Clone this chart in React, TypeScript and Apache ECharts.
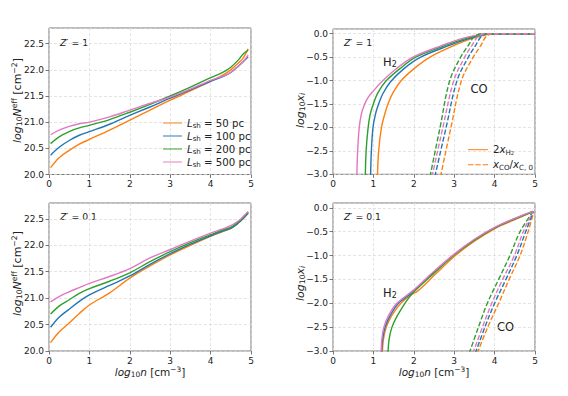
import React, { useEffect, useRef } from 'react';
import * as echarts from 'echarts';

const FONT = 'DejaVu Sans';
const COLORS = ['#ff7f0e', '#1f77b4', '#2ca02c', '#e377c2'];
const LSH = ['50', '100', '200', '500'];

// log10 n sample points for the N_eff curves
const N_X = [0.04, 0.25, 0.5, 0.75, 1, 1.5, 2, 2.5, 3, 3.5, 4, 4.3, 4.5, 4.7, 4.8, 4.93];

// Z' = 1, log10 N_eff
const NEFF_Z1_50 = [20.13, 20.32, 20.46, 20.58, 20.67, 20.85, 21.04, 21.23, 21.42, 21.6, 21.78, 21.9, 22.0, 22.14, 22.22, 22.4];
const NEFF_Z1_100 = [20.37, 20.52, 20.65, 20.75, 20.82, 20.96, 21.13, 21.29, 21.46, 21.62, 21.78, 21.87, 21.95, 22.08, 22.15, 22.25];
const NEFF_Z1_200 = [20.59, 20.72, 20.82, 20.89, 20.94, 21.05, 21.19, 21.34, 21.5, 21.67, 21.85, 21.95, 22.05, 22.2, 22.3, 22.38];
const NEFF_Z1_500 = [20.76, 20.85, 20.92, 20.97, 21.0, 21.1, 21.23, 21.36, 21.48, 21.63, 21.8, 21.88, 21.95, 22.08, 22.15, 22.28];

// Z' = 0.1, log10 N_eff
const NEFF_Z01_50 = [20.16, 20.36, 20.53, 20.71, 20.87, 21.1, 21.38, 21.61, 21.82, 22.0, 22.17, 22.26, 22.32, 22.43, 22.5, 22.61];
const NEFF_Z01_100 = [20.45, 20.64, 20.79, 20.94, 21.06, 21.24, 21.42, 21.64, 21.84, 22.02, 22.18, 22.27, 22.32, 22.43, 22.5, 22.61];
const NEFF_Z01_200 = [20.7, 20.85, 20.97, 21.09, 21.18, 21.32, 21.48, 21.69, 21.88, 22.05, 22.2, 22.29, 22.34, 22.45, 22.52, 22.63];
const NEFF_Z01_500 = [20.93, 21.03, 21.12, 21.2, 21.28, 21.41, 21.56, 21.76, 21.92, 22.08, 22.23, 22.31, 22.37, 22.47, 22.54, 22.64];

// Z' = 1, log10 (2 x_H2) as [log10 n, value]
const H2_Z1_50 = [[1.1, -3.05], [1.13, -2.5], [1.2, -2], [1.28, -1.72], [1.36, -1.5], [1.48, -1.27], [1.69, -1], [2.0, -0.75], [2.4, -0.5], [3.0, -0.25], [3.45, -0.1], [3.88, -0.01], [4.1, 0], [5, 0]];
const H2_Z1_100 = [[0.93, -3.05], [0.95, -2.5], [0.99, -2], [1.05, -1.72], [1.12, -1.52], [1.24, -1.27], [1.42, -1.03], [1.75, -0.75], [2.17, -0.5], [2.88, -0.25], [3.38, -0.1], [3.8, -0.01], [4.05, 0], [5, 0]];
const H2_Z1_200 = [[0.8, -3.05], [0.82, -2.5], [0.87, -2], [0.92, -1.72], [0.99, -1.52], [1.1, -1.28], [1.3, -1.02], [1.65, -0.75], [2.05, -0.5], [2.78, -0.25], [3.3, -0.1], [3.72, -0.01], [4.0, 0], [5, 0]];
const H2_Z1_500 = [[0.59, -3.05], [0.61, -2.5], [0.65, -2], [0.7, -1.72], [0.77, -1.53], [0.87, -1.36], [1.0, -1.22], [1.2, -1.03], [1.55, -0.76], [1.98, -0.5], [2.7, -0.25], [3.2, -0.1], [3.64, -0.02], [3.95, 0], [5, 0]];

// Z' = 1, log10 (x_CO / x_C,0)
const CO_Z1_50 = [[2.66, -3.05], [2.92, -2], [3.18, -1], [3.47, -0.5], [3.66, -0.25], [3.8, -0.05], [3.98, 0], [5, 0]];
const CO_Z1_100 = [[2.52, -3.05], [2.8, -2], [3.07, -1], [3.35, -0.5], [3.53, -0.25], [3.68, -0.05], [3.86, 0], [5, 0]];
const CO_Z1_200 = [[2.4, -3.05], [2.65, -2], [2.89, -1], [3.16, -0.5], [3.35, -0.25], [3.51, -0.05], [3.7, 0], [5, 0]];
const CO_Z1_500 = [[2.45, -3.05], [2.72, -2], [2.99, -1], [3.26, -0.5], [3.44, -0.25], [3.6, -0.05], [3.78, 0], [5, 0]];

// Z' = 0.1, log10 (2 x_H2)
const H2_Z01_50 = [[1.22, -3.05], [1.25, -2.75], [1.32, -2.5], [1.46, -2.25], [1.68, -2.0], [1.9, -1.84], [2.1, -1.74], [2.5, -1.42], [3.0, -1.02], [3.5, -0.7], [4.0, -0.44], [4.5, -0.25], [4.95, -0.08]];
const H2_Z01_100 = [[1.2, -3.05], [1.23, -2.75], [1.29, -2.5], [1.42, -2.25], [1.62, -2.0], [2.0, -1.75], [2.5, -1.35], [3.0, -0.98], [3.5, -0.67], [4.0, -0.42], [4.5, -0.23], [4.95, -0.08]];
const H2_Z01_200 = [[1.36, -3.05], [1.39, -2.75], [1.46, -2.5], [1.6, -2.25], [1.78, -2.0], [1.9, -1.86], [2.0, -1.76], [2.5, -1.37], [3.0, -0.99], [3.5, -0.68], [4.0, -0.42], [4.5, -0.23], [4.95, -0.08]];
const H2_Z01_500 = [[1.19, -3.05], [1.21, -2.75], [1.26, -2.5], [1.38, -2.25], [1.58, -2.0], [2.0, -1.72], [2.5, -1.33], [3.0, -0.97], [3.5, -0.66], [4.0, -0.41], [4.5, -0.22], [4.95, -0.07]];

// Z' = 0.1, log10 (x_CO / x_C,0)
const CO_Z01_50 = [[3.57, -3.05], [3.83, -2.5], [4.1, -2], [4.36, -1.5], [4.63, -1], [4.83, -0.5], [4.97, -0.08]];
const CO_Z01_100 = [[3.52, -3.05], [3.76, -2.5], [4.0, -2], [4.28, -1.5], [4.55, -1], [4.77, -0.5], [4.96, -0.08]];
const CO_Z01_200 = [[3.37, -3.05], [3.6, -2.5], [3.82, -2], [4.1, -1.5], [4.38, -1], [4.63, -0.5], [4.95, -0.08]];
const CO_Z01_500 = [[3.46, -3.05], [3.7, -2.5], [3.93, -2], [4.2, -1.5], [4.49, -1], [4.71, -0.5], [4.95, -0.08]];

const TICK = 9;
const LEG = 10.2;
const NAME = 11;
const TXT = '#222';
const SPINE = '#555';

const richBase = (size: number, lh: number) => {
  const s = Math.round(size * 0.7 * 10) / 10;
  const ss = Math.round(size * 0.5 * 10) / 10;
  return {
    it: { fontStyle: 'italic', fontSize: size, fontFamily: FONT, lineHeight: lh, color: TXT },
    n: { fontSize: size, fontFamily: FONT, lineHeight: lh, color: TXT },
    sub: { fontSize: s, fontFamily: FONT, lineHeight: 5, verticalAlign: 'bottom', color: TXT },
    subi: { fontSize: s, fontStyle: 'italic', fontFamily: FONT, lineHeight: 5, verticalAlign: 'bottom', color: TXT },
    subsub: { fontSize: ss, fontFamily: FONT, lineHeight: 1, verticalAlign: 'bottom', color: TXT },
    sup: { fontSize: s, fontFamily: FONT, lineHeight: 5, verticalAlign: 'top', color: TXT },
  };
};

const SOLID_ICON = 'path://M0,0H20V1H0Z';
const DASH_ICON = 'path://M0,0H5.5V1H0Z M7.3,0H12.8V1H7.3Z M14.6,0H20V1H14.6Z';

function fmtY(v: number) {
  const s = Math.abs(v).toFixed(1);
  return v < -1e-9 ? '\u2212' + s : s;
}

export default function App() {
  const ref = useRef<HTMLDivElement>(null);
  useEffect(() => {
    if (!ref.current) return;
    const chart = echarts.init(ref.current, undefined, { renderer: 'svg' });

    const grids = [
      { left: 49, top: 28, width: 202, height: 146.5 },
      { left: 333, top: 29, width: 202, height: 145.3 },
      { left: 49, top: 203, width: 202, height: 148 },
      { left: 333, top: 203, width: 202, height: 148 },
    ].map((g) => ({ ...g, show: true, borderColor: SPINE, borderWidth: 0.8, backgroundColor: 'transparent' }));

    const xName = '{it|log}{sub|10}{it|n}{n| [cm}{sup|\u22123}{n|]}';
    const xAxes = [0, 1, 2, 3].map((i) => ({
      type: 'value',
      gridIndex: i,
      min: 0,
      max: 5,
      interval: 1,
      name: i >= 2 ? xName : '',
      nameLocation: 'middle',
      nameGap: 14,
      nameTextStyle: { fontSize: 10.5, fontFamily: FONT, color: TXT, rich: richBase(10.5, 12) },
      axisLine: { show: false, onZero: false },
      axisTick: { show: true, length: 3.5, lineStyle: { color: SPINE, width: 0.8 } },
      axisLabel: { fontSize: TICK, fontFamily: FONT, color: TXT, margin: 5 },
      splitLine: { show: true, lineStyle: { color: '#d9d9d9', type: [3, 2], width: 0.7 } },
    }));

    const yCfg = [
      { min: 20, max: 22.8 },
      { min: -3, max: 0.1 },
      { min: 20, max: 22.8 },
      { min: -3, max: 0.1 },
    ];
    const yAxes = yCfg.map((c, i) => ({
      type: 'value',
      gridIndex: i,
      min: c.min,
      max: c.max,
      interval: 0.5,
      axisLine: { show: false, onZero: false },
      axisTick: { show: true, length: 3.5, lineStyle: { color: SPINE, width: 0.8 } },
      axisLabel: { fontSize: TICK, fontFamily: FONT, color: TXT, margin: 5, formatter: fmtY, showMaxLabel: false },
      splitLine: { show: true, lineStyle: { color: '#d9d9d9', type: [3, 2], width: 0.7 } },
    }));

    const base = (g: number, color: string, name: string, data: number[][], dashed = false) => ({
      type: 'line',
      name,
      xAxisIndex: g,
      yAxisIndex: g,
      data,
      symbol: 'none',
      smooth: 0.35,
      clip: true,
      lineStyle: { color, width: 1.4, type: dashed ? [5, 2.2] : 'solid' },
      itemStyle: { color },
      emphasis: { disabled: true },
    });

    const neffZ1 = [NEFF_Z1_50, NEFF_Z1_100, NEFF_Z1_200, NEFF_Z1_500];
    const neffZ01 = [NEFF_Z01_50, NEFF_Z01_100, NEFF_Z01_200, NEFF_Z01_500];
    const h2Z1 = [H2_Z1_50, H2_Z1_100, H2_Z1_200, H2_Z1_500];
    const coZ1 = [CO_Z1_50, CO_Z1_100, CO_Z1_200, CO_Z1_500];
    const h2Z01 = [H2_Z01_50, H2_Z01_100, H2_Z01_200, H2_Z01_500];
    const coZ01 = [CO_Z01_50, CO_Z01_100, CO_Z01_200, CO_Z01_500];

    const series: any[] = [];
    neffZ1.forEach((ys, i) => series.push(base(0, COLORS[i], 'L' + LSH[i], N_X.map((x, j) => [x, ys[j]]))));
    h2Z1.forEach((d, i) => series.push(base(1, COLORS[i], i === 0 ? 'H2leg' : 'h2_' + LSH[i], d)));
    coZ1.forEach((d, i) => series.push(base(1, COLORS[i], i === 0 ? 'COleg' : 'co_' + LSH[i], d, true)));
    neffZ01.forEach((ys, i) => series.push(base(2, COLORS[i], 'b_L' + LSH[i], N_X.map((x, j) => [x, ys[j]]))));
    h2Z01.forEach((d, i) => series.push(base(3, COLORS[i], 'bh2_' + LSH[i], d)));
    coZ01.forEach((d, i) => series.push(base(3, COLORS[i], 'bco_' + LSH[i], d, true)));

    const legRich = richBase(LEG, 12);
    const legends = [
      {
        orient: 'vertical',
        left: 158,
        top: 113,
        itemWidth: 19,
        itemHeight: 1.5,
        itemGap: 2,
        selectedMode: false,
        data: LSH.map((l, i) => ({ name: 'L' + l, icon: SOLID_ICON, itemStyle: { color: COLORS[i] } })),
        formatter: (name: string) => '{it|L}{sub|sh}{n| = ' + name.slice(1) + ' pc}',
        textStyle: { fontSize: LEG, fontFamily: FONT, color: TXT, rich: legRich },
      },
      {
        orient: 'vertical',
        left: 463,
        top: 139.7,
        itemWidth: 20,
        itemHeight: 1.5,
        itemGap: 4,
        selectedMode: false,
        data: [
          { name: 'H2leg', icon: SOLID_ICON, itemStyle: { color: COLORS[0] } },
          { name: 'COleg', icon: DASH_ICON, itemStyle: { color: COLORS[0] } },
        ],
        formatter: (name: string) =>
          name === 'H2leg' ? '{n|2}{it|x}{sub|H}{subsub|2}' : '{it|x}{sub|CO}{n|/}{it|x}{sub|C, 0}',
        textStyle: { fontSize: LEG, fontFamily: FONT, color: TXT, rich: legRich },
      },
    ];

    const annRich = richBase(9.3, 12);
    const bigRich = richBase(11.5, 13);
    const nameRich = richBase(NAME, 13);
    const ann = (x: number, y: number, text: string, rich: any, size: number, rotation = 0) => ({
      type: 'text',
      x,
      y,
      rotation,
      silent: true,
      style: { text, rich, fontSize: size, fontFamily: FONT, fill: TXT, verticalAlign: 'middle', align: 'left' },
    });

    const nName = '{it|log}{sub|10}{it|N}{sup|eff}{n| [cm}{sup|\u22122}{n|]}';
    const xiName = '{it|log}{sub|10}{it|x}{subi|i}';
    const R = Math.PI / 2;

    chart.setOption({
      animation: false,
      backgroundColor: '#ffffff',
      grid: grids,
      xAxis: xAxes,
      yAxis: yAxes,
      legend: legends,
      series,
      graphic: [
        ann(17, 143, nName, nameRich, NAME, R),
        ann(300, 128, xiName, nameRich, NAME, R),
        ann(17, 316, nName, nameRich, NAME, R),
        ann(300, 301, xiName, nameRich, NAME, R),
        ann(60, 42.5, "{it|Z}{n|\u2032 = 1}", annRich, 9.3),
        ann(344, 42.5, "{it|Z}{n|\u2032 = 1}", annRich, 9.3),
        ann(60, 216.5, "{it|Z}{n|\u2032 = 0.1}", annRich, 9.3),
        ann(344, 216.5, "{it|Z}{n|\u2032 = 0.1}", annRich, 9.3),
        ann(383, 62, '{n|H}{sub|2}', bigRich, 11.5),
        ann(470.5, 88.5, '{n|CO}', bigRich, 11.5),
        ann(383, 292.5, '{n|H}{sub|2}', bigRich, 11.5),
        ann(497, 326.5, '{n|CO}', bigRich, 11.5),
      ],
    });
    return () => chart.dispose();
  }, []);
  return <div ref={ref} style={{ position: 'fixed', left: 0, top: 0, width: 568, height: 396 }} />;
}
